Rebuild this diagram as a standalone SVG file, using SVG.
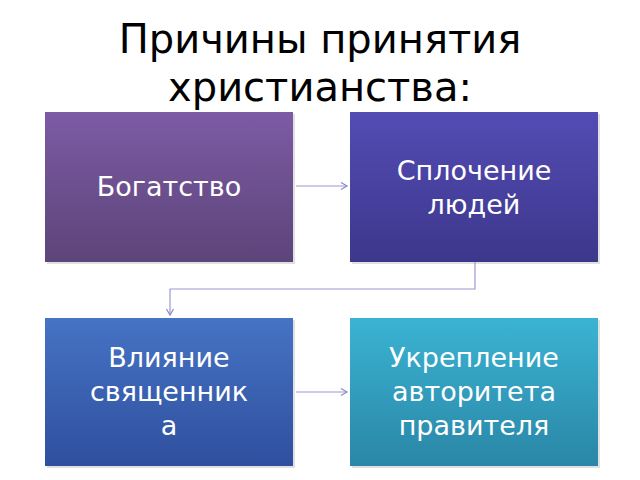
<svg xmlns="http://www.w3.org/2000/svg" width="640" height="480" viewBox="0 0 640 480">
<defs>
<linearGradient id="g1" x1="0" y1="0" x2="0" y2="1"><stop offset="0" stop-color="#7c5ba4"/><stop offset="1" stop-color="#5d4479"/></linearGradient>
<linearGradient id="g2" x1="0" y1="0" x2="0" y2="1"><stop offset="0" stop-color="#534cb4"/><stop offset="1" stop-color="#3d378c"/></linearGradient>
<linearGradient id="g3" x1="0" y1="0" x2="0" y2="1"><stop offset="0" stop-color="#4673c4"/><stop offset="1" stop-color="#2f4f9e"/></linearGradient>
<linearGradient id="g4" x1="0" y1="0" x2="0" y2="1"><stop offset="0" stop-color="#3bb3d3"/><stop offset="1" stop-color="#2a86a6"/></linearGradient>
<marker id="ah" markerWidth="10" markerHeight="10" refX="7" refY="4" orient="auto" markerUnits="userSpaceOnUse"><path d="M1,0.5 L7,4 L1,7.5" fill="none" stroke="#8a8ac8" stroke-width="1.2"/></marker>
</defs>
<style>
.t{font-family:"DejaVu Sans","Liberation Sans",sans-serif;fill:#fff;font-size:27px;text-anchor:middle}
.h{font-family:"DejaVu Sans","Liberation Sans",sans-serif;fill:#000;font-size:40px;text-anchor:middle}
.c{fill:none;stroke:#9a9ad0;stroke-width:1.2}
.s{fill:#000;opacity:0.12}
</style>
<text class="h" x="320" y="53">Причины принятия</text>
<text class="h" x="320" y="101">христианства:</text>
<g id="n1"><rect class="s" x="47" y="114" width="248" height="150"/><rect x="45" y="112" width="248" height="150" fill="url(#g1)"/><text class="t" x="169" y="196">Богатство</text></g>
<g id="n2"><rect class="s" x="352" y="114" width="248" height="150"/><rect x="350" y="112" width="248" height="150" fill="url(#g2)"/><text class="t" x="474" y="180">Сплочение</text><text class="t" x="474" y="214">людей</text></g>
<g id="n3"><rect class="s" x="47" y="320" width="248" height="148"/><rect x="45" y="318" width="248" height="148" fill="url(#g3)"/><text class="t" x="169" y="367">Влияние</text><text class="t" x="169" y="401">священник</text><text class="t" x="169" y="435">а</text></g>
<g id="n4"><rect class="s" x="352" y="320" width="248" height="148"/><rect x="350" y="318" width="248" height="148" fill="url(#g4)"/><text class="t" x="474" y="367">Укрепление</text><text class="t" x="474" y="401">авторитета</text><text class="t" x="474" y="435">правителя</text></g>
<g id="connectors">
<path class="c" d="M296,186 H347" marker-end="url(#ah)"/>
<path class="c" d="M475,262 V289 H170 V315" marker-end="url(#ah)"/>
<path class="c" d="M296,392 H347" stroke="#8fc8dc" marker-end="url(#ah)"/>
</g>
</svg>
